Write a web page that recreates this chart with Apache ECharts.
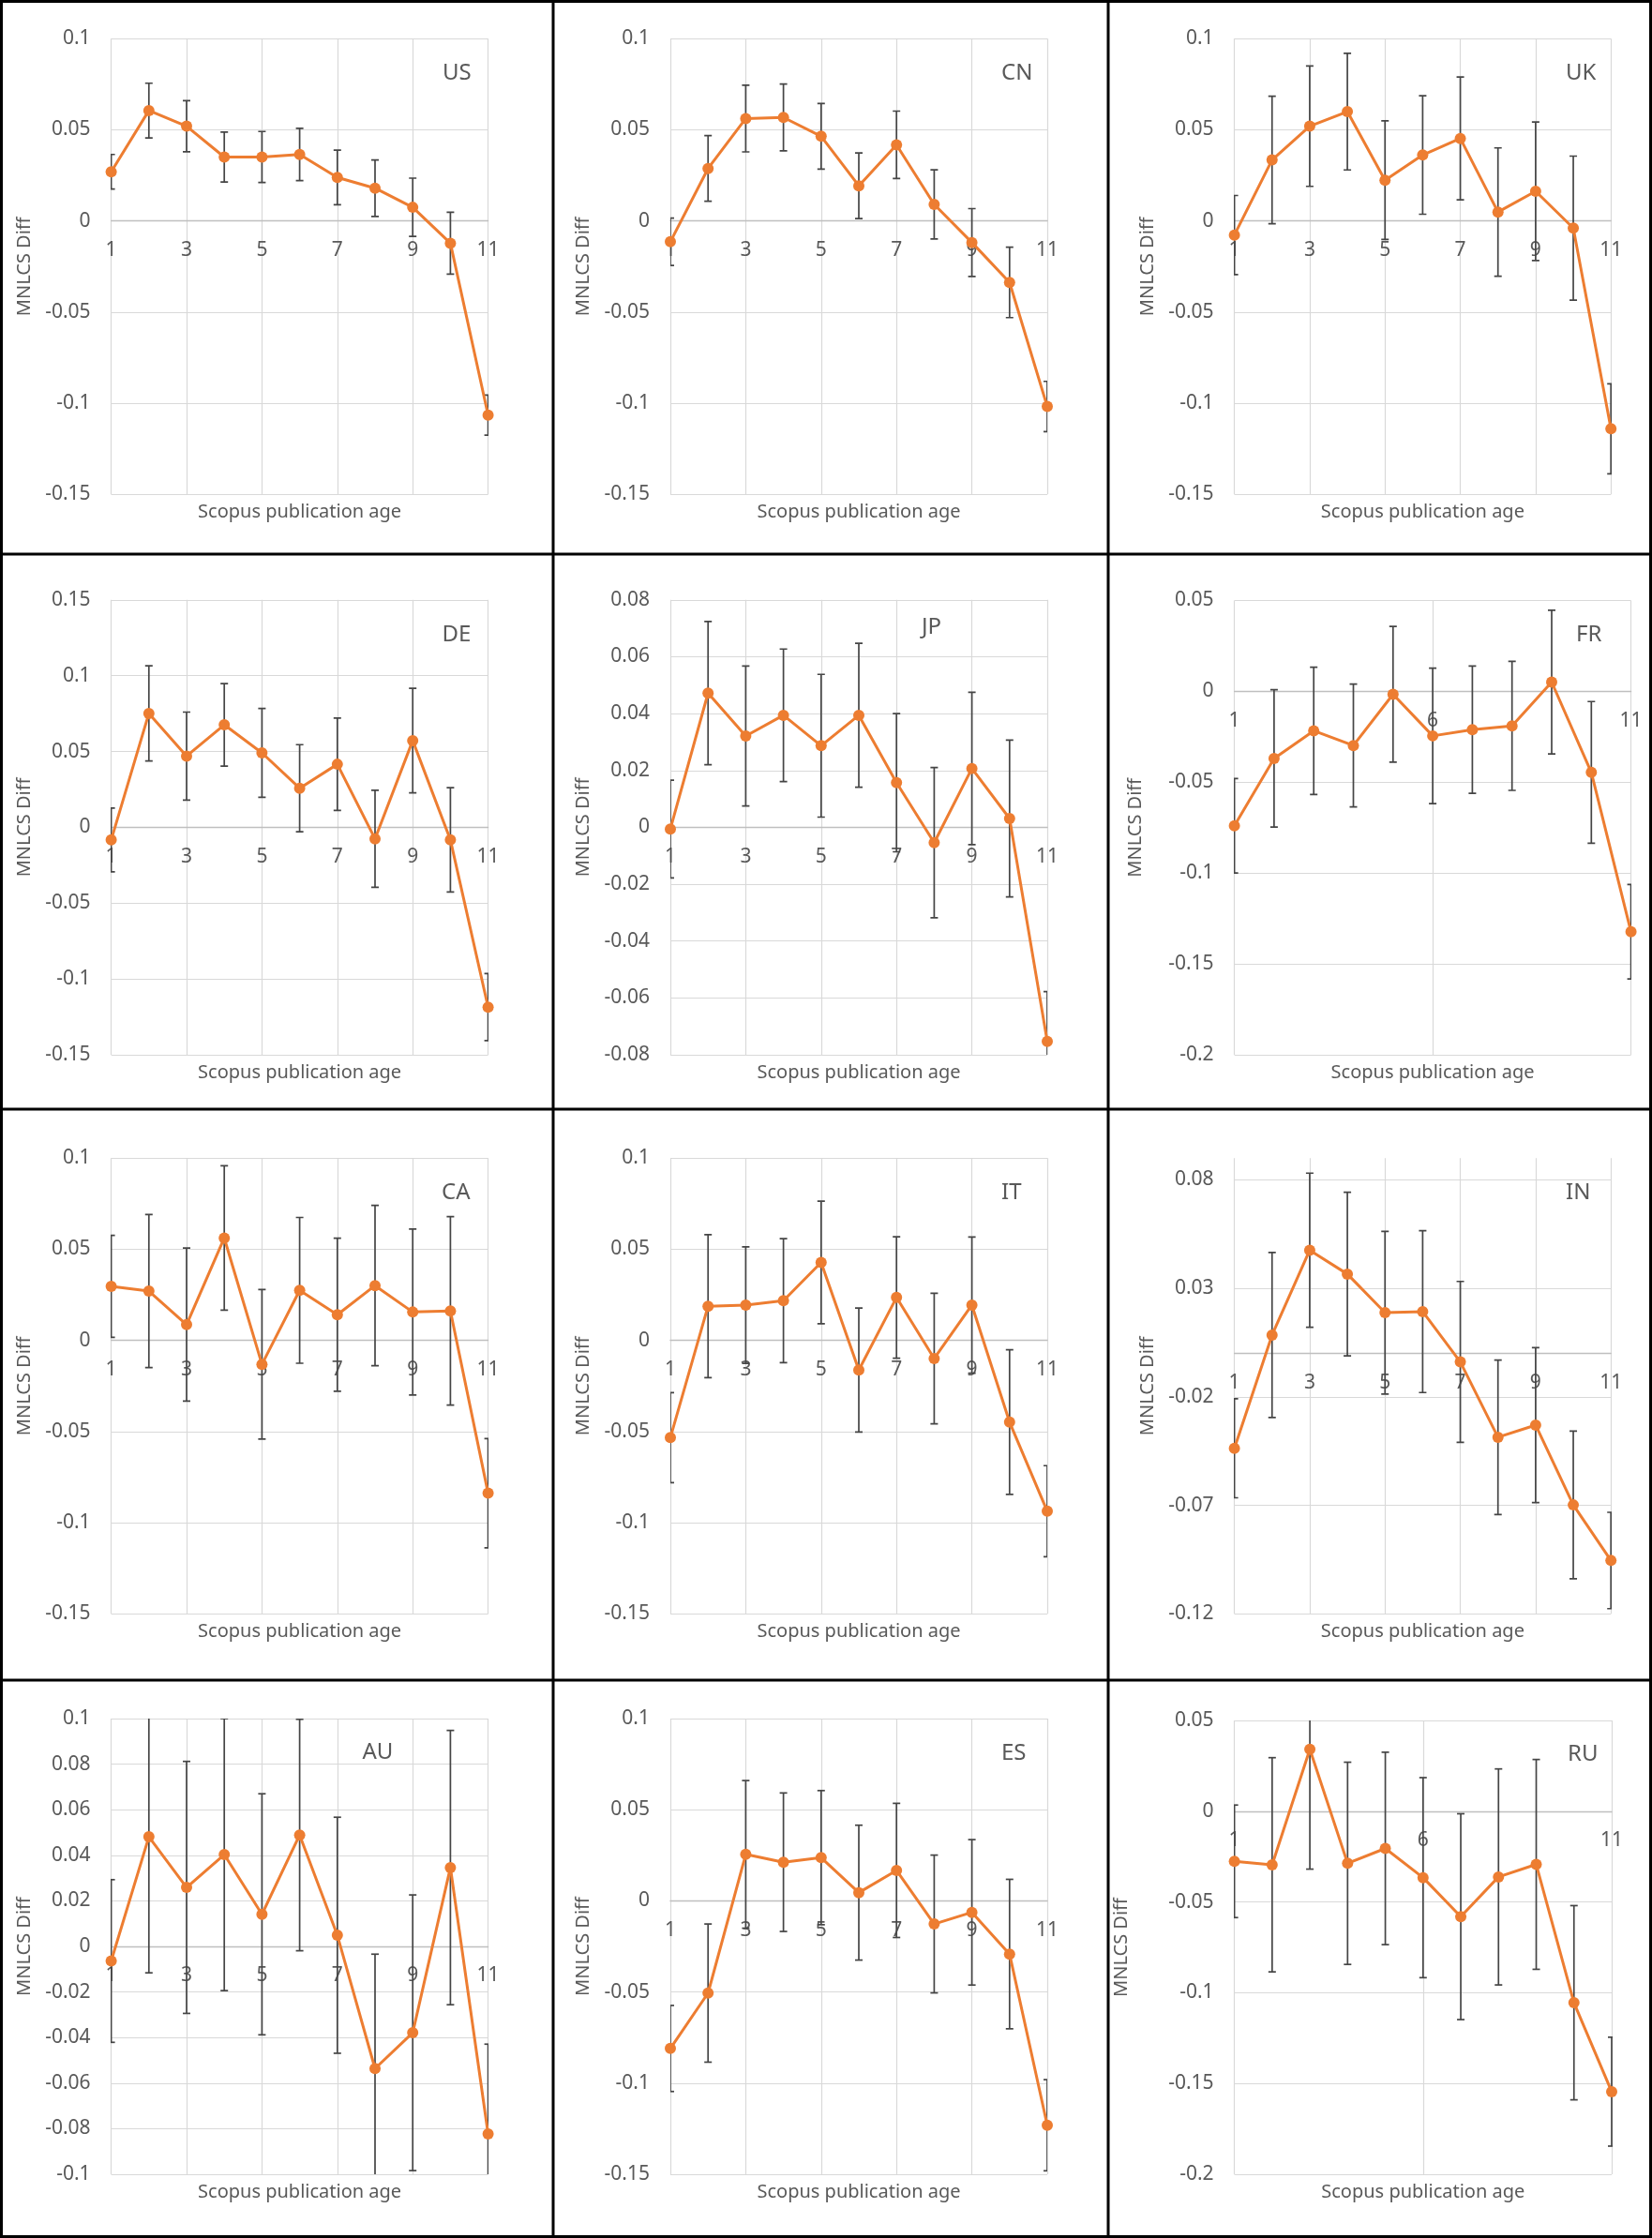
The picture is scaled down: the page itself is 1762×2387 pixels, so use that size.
<!DOCTYPE html>
<html>
<head>
<meta charset="utf-8">
<script src="https://cdn.jsdelivr.net/npm/echarts@6/dist/echarts.min.js"></script>
<style>
html,body{margin:0;padding:0;background:#fff;}
#chart{width:1762px;height:2387px;}
</style>
</head>
<body>
<div id="chart"></div>
<script>
// ---------- data ----------
const categories = ['1','2','3','4','5','6','7','8','9','10','11'];
const countries = ['US','CN','UK','DE','JP','FR','CA','IT','IN','AU','ES','RU'];

const usDiff = [0.027, 0.0606, 0.052, 0.0351, 0.0351, 0.0365, 0.0239, 0.018, 0.0075, -0.0122, -0.1065];
const usErr  = [0.0095, 0.015, 0.014, 0.0137, 0.014, 0.0143, 0.015, 0.0155, 0.016, 0.017, 0.011];
const cnDiff = [-0.0114, 0.0288, 0.0562, 0.0568, 0.0465, 0.0193, 0.0418, 0.0091, -0.0118, -0.0337, -0.1018];
const cnErr  = [0.013, 0.018, 0.0183, 0.0183, 0.018, 0.018, 0.0185, 0.019, 0.0186, 0.0193, 0.0138];
const ukDiff = [-0.0077, 0.0335, 0.052, 0.060, 0.0224, 0.0362, 0.0453, 0.0049, 0.0163, -0.0039, -0.114];
const ukErr  = [0.0217, 0.035, 0.033, 0.032, 0.0325, 0.0325, 0.0337, 0.0352, 0.038, 0.0395, 0.0247];
const deDiff = [-0.0083, 0.0751, 0.047, 0.0676, 0.0491, 0.0258, 0.0416, -0.0076, 0.0572, -0.0083, -0.1186];
const deErr  = [0.021, 0.0314, 0.029, 0.0272, 0.0293, 0.0287, 0.0305, 0.032, 0.0345, 0.0344, 0.0221];
const jpDiff = [-0.0006, 0.0472, 0.0321, 0.0394, 0.0287, 0.0394, 0.0157, -0.0054, 0.0207, 0.0031, -0.0753];
const jpErr  = [0.0172, 0.0252, 0.0246, 0.0233, 0.0251, 0.0253, 0.0243, 0.0264, 0.0268, 0.0276, 0.0175];
const frDiff = [-0.074, -0.0369, -0.0217, -0.0298, -0.0016, -0.0245, -0.0211, -0.019, 0.0051, -0.0446, -0.1323];
const frErr  = [0.026, 0.0378, 0.035, 0.0338, 0.0373, 0.0373, 0.035, 0.0355, 0.0395, 0.039, 0.026];
const caDiff = [0.0297, 0.0271, 0.0087, 0.0562, -0.0131, 0.0275, 0.0141, 0.0301, 0.0156, 0.0162, -0.0838];
const caErr  = [0.028, 0.042, 0.042, 0.0396, 0.041, 0.040, 0.042, 0.044, 0.0455, 0.0517, 0.030];
const itDiff = [-0.0533, 0.0188, 0.0194, 0.0218, 0.0428, -0.0162, 0.0236, -0.0099, 0.0194, -0.0448, -0.0937];
const itErr  = [0.0247, 0.0392, 0.032, 0.034, 0.0336, 0.034, 0.0333, 0.0358, 0.0374, 0.0397, 0.025];
const inDiff = [-0.0437, 0.0085, 0.0476, 0.0366, 0.0188, 0.0193, -0.0039, -0.0386, -0.033, -0.0698, -0.0954];
const inErr  = [0.0228, 0.038, 0.0355, 0.0377, 0.0375, 0.0373, 0.0371, 0.0356, 0.0357, 0.034, 0.0222];
const auDiff = [-0.0064, 0.0481, 0.0259, 0.0403, 0.0141, 0.0489, 0.0049, -0.0536, -0.0379, 0.0346, -0.0823];
const auErr  = [0.0357, 0.0597, 0.0553, 0.0597, 0.0529, 0.0508, 0.0518, 0.0502, 0.0605, 0.0602, 0.0394];
const esDiff = [-0.081, -0.0506, 0.0255, 0.0212, 0.0237, 0.0045, 0.0167, -0.0127, -0.0063, -0.0292, -0.1231];
const esErr  = [0.0236, 0.0379, 0.0405, 0.038, 0.0368, 0.037, 0.0368, 0.0378, 0.0399, 0.041, 0.025];
const ruDiff = [-0.0276, -0.0295, 0.0341, -0.0287, -0.0205, -0.0366, -0.0581, -0.0362, -0.0293, -0.1055, -0.1545];
const ruErr  = [0.031, 0.059, 0.066, 0.0557, 0.053, 0.0551, 0.0567, 0.0595, 0.0578, 0.0535, 0.030];

// y-axis scales (min, max, step) per panel
const yMin  = [-0.15, -0.15, -0.15, -0.15, -0.08, -0.2, -0.15, -0.15, -0.12, -0.1, -0.15, -0.2];
const yMax  = [0.1, 0.1, 0.1, 0.15, 0.08, 0.05, 0.1, 0.1, 0.09, 0.1, 0.1, 0.05];
const yStep = [0.05, 0.05, 0.05, 0.05, 0.02, 0.05, 0.05, 0.05, 0.05, 0.02, 0.05, 0.05];
// x label every n-th category
const xLabelEvery = [2, 2, 2, 2, 2, 5, 2, 2, 2, 2, 2, 5];

const diffs = [usDiff, cnDiff, ukDiff, deDiff, jpDiff, frDiff, caDiff, itDiff, inDiff, auDiff, esDiff, ruDiff];
const errs  = [usErr, cnErr, ukErr, deErr, jpErr, frErr, caErr, itErr, inErr, auErr, esErr, ruErr];

// ---------- layout (pixels) ----------
const plotRects = [
  [118.6, 41.3, 402, 486], [715, 41.3, 402, 486], [1316.6, 41.3, 401.6, 486],
  [118.6, 639.8, 402, 485.2], [715, 639.8, 402, 485.2], [1316.6, 640.5, 423, 484.5],
  [118.6, 1235.3, 402, 486], [715, 1235.3, 402, 486], [1316.6, 1235.3, 401.6, 486],
  [118.6, 1833, 402, 486], [715, 1833, 402, 486], [1316.6, 1835, 402.4, 484]
];
const yNameGaps = [82, 82.5, 82, 82, 82.5, 95, 82, 82.5, 82, 82, 82.5, 110];
const codePos = [
  [472, 78.5], [1068, 78.5], [1670, 78.5],
  [471.5, 677], [983, 669.6], [1681, 677],
  [471, 1272], [1068, 1272], [1670, 1272],
  [386.5, 1869], [1068, 1870], [1672, 1871]
];
const xLabelGap = 21; // gap between the zero line and the category labels

const FONT = '"Noto Sans", "Open Sans", sans-serif';
const TXT = '#595959';

const grids = [], xAxes = [], yAxes = [], series = [], graphics = [];

countries.forEach((c, k) => {
  const r = plotRects[k];
  grids.push({left: r[0], top: r[1], width: r[2], height: r[3], containLabel: false});
  const every = xLabelEvery[k];
  // distance from plot bottom up to the zero line, so labels sit under the zero line
  const zeroFromBottom = r[3] * (0 - yMin[k]) / (yMax[k] - yMin[k]);
  xAxes.push({
    type: 'category', gridIndex: k, data: categories, boundaryGap: false,
    axisLine: {show: true, onZero: true, lineStyle: {color: '#bfbfbf', width: 1.3}},
    axisTick: {show: false},
    axisLabel: {interval: every - 1, color: TXT, fontSize: 21, fontFamily: FONT,
                margin: xLabelGap - zeroFromBottom, hideOverlap: false},
    splitLine: {show: true, interval: every - 1, lineStyle: {color: '#d9d9d9', width: 1.2}}
  });
  const isIN = (c === 'IN');
  yAxes.push({
    type: 'value', gridIndex: k, min: yMin[k], max: yMax[k], interval: yStep[k],
    name: 'MNLCS Diff', nameLocation: 'middle', nameGap: yNameGaps[k], nameRotate: 90,
    nameTextStyle: {color: TXT, fontSize: 20, fontFamily: FONT},
    axisLine: {show: false}, axisTick: {show: false},
    axisLabel: {color: TXT, fontSize: 21, fontFamily: FONT, margin: 22,
      showMaxLabel: !isIN,
      formatter: v => String(Math.round(v * 1000) / 1000)},
    splitLine: {show: true, showMaxLine: !isIN, lineStyle: {color: '#d9d9d9', width: 1.2}}
  });
  const d = diffs[k], e = errs[k];
  series.push({
    type: 'custom', name: c + ' error', xAxisIndex: k, yAxisIndex: k, z: 2, clip: true,
    data: d.map((v, i) => [i, v - e[i], v + e[i]]),
    encode: {x: 0, y: [1, 2]},
    renderItem: (params, api) => {
      const i = api.value(0);
      const hi = api.coord([i, api.value(2)]);
      const lo = api.coord([i, api.value(1)]);
      const st = {stroke: '#454545', lineWidth: 1.7};
      const cw = 4;
      return {type: 'group', children: [
        {type: 'line', shape: {x1: hi[0], y1: hi[1], x2: lo[0], y2: lo[1]}, style: st},
        {type: 'line', shape: {x1: hi[0] - cw, y1: hi[1], x2: hi[0] + cw, y2: hi[1]}, style: st},
        {type: 'line', shape: {x1: lo[0] - cw, y1: lo[1], x2: lo[0] + cw, y2: lo[1]}, style: st}
      ]};
    }
  });
  series.push({
    type: 'line', name: c, xAxisIndex: k, yAxisIndex: k, z: 3, data: d,
    symbol: 'circle', symbolSize: 12, showSymbol: true,
    lineStyle: {color: '#ED7D31', width: 3},
    itemStyle: {color: '#ED7D31'},
    animation: false
  });
  // x axis title
  graphics.push({
    type: 'text', x: r[0] + r[2] / 2, y: r[1] + r[3] + 19,
    style: {text: 'Scopus publication age', fill: TXT, font: '20px ' + FONT,
            textAlign: 'center', textVerticalAlign: 'middle'}
  });
  // country code
  graphics.push({
    type: 'text', x: codePos[k][0], y: codePos[k][1],
    style: {text: c, fill: TXT, font: '24px ' + FONT, textAlign: 'left', textVerticalAlign: 'middle'}
  });
});

// panel borders
const vx = [1.5, 590, 1182, 1760.5];
const hy = [1.5, 591, 1183, 1792, 2385.5];
vx.forEach(x => graphics.push({type: 'line', shape: {x1: x, y1: 0, x2: x, y2: 2387}, style: {stroke: '#000', lineWidth: 3}, z: 100}));
hy.forEach(y => graphics.push({type: 'line', shape: {x1: 0, y1: y, x2: 1762, y2: y}, style: {stroke: '#000', lineWidth: 3}, z: 100}));

const chart = echarts.init(document.getElementById('chart'), null, {renderer: 'canvas'});
chart.setOption({
  backgroundColor: '#ffffff',
  animation: false,
  grid: grids, xAxis: xAxes, yAxis: yAxes, series: series,
  graphic: {elements: graphics}
});
</script>
</body>
</html>
